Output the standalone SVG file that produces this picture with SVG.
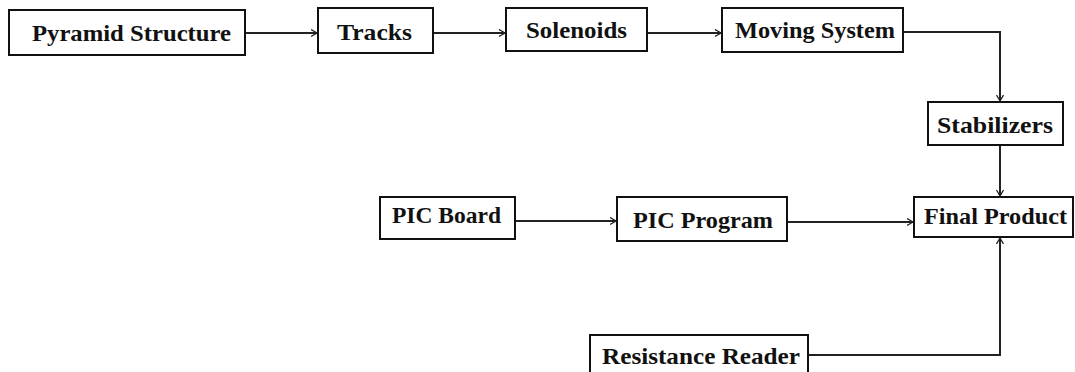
<svg xmlns="http://www.w3.org/2000/svg" width="1075" height="372" viewBox="0 0 1075 372">
<defs>
<marker id="arr" markerWidth="8" markerHeight="10" refX="6" refY="4" orient="auto" markerUnits="userSpaceOnUse">
<path d="M0,0.5 L6,4 L0,7.5" fill="none" stroke="#222" stroke-width="1.3"/>
</marker>
<style>
.box{fill:#fff;stroke:#111;stroke-width:2}
.lbl{font-family:"Liberation Serif","Times New Roman",serif;font-weight:bold;font-size:24px;fill:#111}
.con{fill:none;stroke:#222;stroke-width:2;marker-end:url(#arr)}
</style>
</defs>
<rect width="1075" height="372" fill="#fff"/>
<g id="connectors">
<path class="con" d="M245,33 H317"/>
<path class="con" d="M433,33 H505"/>
<path class="con" d="M647,33 H721"/>
<path class="con" d="M903,32 H1000 V101"/>
<path class="con" d="M1000,145 V196"/>
<path class="con" d="M515,221 H616"/>
<path class="con" d="M787,222 H913"/>
<path class="con" d="M808,355 H1000 V238"/>
</g>
<g id="pyramid"><rect class="box" x="9" y="10" width="236" height="45"/><text class="lbl" x="32" y="41" textLength="199" lengthAdjust="spacingAndGlyphs">Pyramid Structure</text></g>
<g id="tracks"><rect class="box" x="318" y="8" width="115" height="45"/><text class="lbl" x="337" y="40" textLength="75" lengthAdjust="spacingAndGlyphs">Tracks</text></g>
<g id="solenoids"><rect class="box" x="506" y="8" width="141" height="43"/><text class="lbl" x="526" y="38" textLength="101" lengthAdjust="spacingAndGlyphs">Solenoids</text></g>
<g id="moving"><rect class="box" x="722" y="8" width="181" height="44"/><text class="lbl" x="735" y="38" textLength="160" lengthAdjust="spacingAndGlyphs">Moving System</text></g>
<g id="stabilizers"><rect class="box" x="928" y="102" width="135" height="43"/><text class="lbl" x="937" y="133" textLength="116" lengthAdjust="spacingAndGlyphs">Stabilizers</text></g>
<g id="final"><rect class="box" x="914" y="197" width="159" height="40"/><text class="lbl" x="924" y="224" textLength="143" lengthAdjust="spacingAndGlyphs">Final Product</text></g>
<g id="picboard"><rect class="box" x="380" y="197" width="135" height="42"/><text class="lbl" x="392" y="223" textLength="109" lengthAdjust="spacingAndGlyphs">PIC Board</text></g>
<g id="picprogram"><rect class="box" x="617" y="197" width="170" height="44"/><text class="lbl" x="633" y="228" textLength="140" lengthAdjust="spacingAndGlyphs">PIC Program</text></g>
<g id="resistance"><rect class="box" x="590" y="335" width="218" height="45"/><text class="lbl" x="602" y="364" textLength="198" lengthAdjust="spacingAndGlyphs">Resistance Reader</text></g>
</svg>
